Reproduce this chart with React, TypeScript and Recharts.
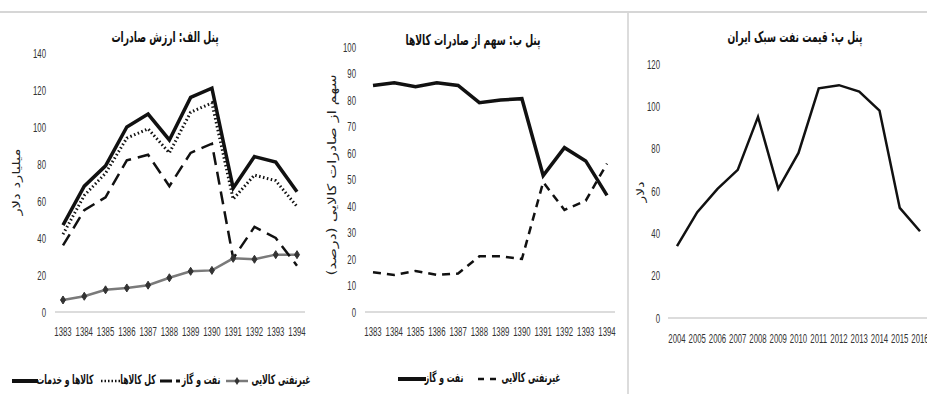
import React from 'react';
import { LineChart, Line, XAxis, YAxis } from 'recharts';

const yearsA = ['1383', '1384', '1385', '1386', '1387', '1388', '1389', '1390', '1391', '1392', '1393', '1394'];
const goodsServices = [47, 68, 79, 100, 107, 93, 116, 121, 67, 84, 81, 65];
const totalGoods = [42, 63, 75, 94, 99, 86, 108, 113, 61, 74, 71, 57];
const oilGas = [36, 55, 62, 82, 85, 68, 86, 91, 29, 46, 40, 25];
const nonOil = [6.5, 8.5, 12, 13, 14.5, 18.5, 22, 22.5, 29, 28.5, 31, 31];

const oilShare = [85.5, 86.5, 85, 86.5, 85.5, 79, 80, 80.5, 51.5, 62, 57, 44];
const nonOilShare = [15, 14, 15.5, 14, 14.5, 21, 21, 20, 49, 38.5, 42, 56];

const yearsC = ['2004', '2005', '2006', '2007', '2008', '2009', '2010', '2011', '2012', '2013', '2014', '2015', '2016'];
const oilPrice = [34, 50, 61, 70, 95, 61, 78, 108.5, 110, 107, 98, 52, 41];

const ticksA = [0, 20, 40, 60, 80, 100, 120, 140];
const ticksB = [0, 10, 20, 30, 40, 50, 60, 70, 80, 90, 100];
const ticksC = [0, 20, 40, 60, 80, 100, 120];

const titleA = 'پنل الف: ارزش صادرات';
const titleB = 'پنل ب: سهم از صادرات کالاها';
const titleC = 'پنل پ: قیمت نفت سبک ایران';
const labelA = 'میلیارد دلار';
const labelB = 'سهم از صادرات کالایی (درصد)';
const labelC = 'دلار';
const nameGS = 'کالاها و خدمات';
const nameTG = 'کل کالاها';
const nameOG = 'نفت و گاز';
const nameNO = 'غیرنفتی کالایی';

const dataA = yearsA.map((y, i) => ({ year: y, gs: goodsServices[i], tg: totalGoods[i], og: oilGas[i], no: nonOil[i] }));
const dataB = yearsA.map((y, i) => ({ year: y, og: oilShare[i], no: nonOilShare[i] }));
const dataC = yearsC.map((y, i) => ({ year: y, p: oilPrice[i] }));

const numFont = '"Liberation Sans", Arial, sans-serif';
const faFont = '"DejaVu Sans Condensed", "DejaVu Sans", sans-serif';

const XTick = (props: any) => {
  const { x, y, payload } = props;
  return (
    <g transform={`translate(${x},${y})`}>
      <text transform="scale(0.6,1)" textAnchor="middle" dy="0.71em" fontFamily={numFont} fontSize={13} fill="#333">{payload.value}</text>
    </g>
  );
};

const YTick = (props: any) => {
  const { x, y, payload } = props;
  return (
    <g transform={`translate(${x},${y})`}>
      <text transform="scale(0.6,1)" textAnchor="end" dy="0.35em" fontFamily={numFont} fontSize={13} fill="#333">{payload.value}</text>
    </g>
  );
};

const Diamond = (props: any) => {
  const { cx, cy } = props;
  if (cx == null || cy == null) return null;
  return <path d={`M${cx},${cy - 4} L${cx + 2.5},${cy} L${cx},${cy + 4} L${cx - 2.5},${cy} Z`} fill="#333" stroke="#333" strokeWidth={1} />;
};

const abs = (left: number, top: number): React.CSSProperties => ({ position: 'absolute', left, top });

const Title = ({ x, y, text }: { x: number; y: number; text: string }) => (
  <div style={{ position: 'absolute', left: x - 150, top: y, width: 300, textAlign: 'center', fontFamily: faFont, fontSize: 15, fontWeight: 'bold', color: '#111', direction: 'rtl', whiteSpace: 'nowrap', transform: 'scaleX(0.68)', transformOrigin: 'center' }}>{text}</div>
);

const VLabel = ({ x, y, text, size, stretch }: { x: number; y: number; text: string; size: number; stretch: number }) => (
  <div style={{ position: 'absolute', left: x - 150, top: y - 8, width: 300, height: 16, lineHeight: '16px', textAlign: 'center', fontFamily: faFont, fontSize: size, color: '#222', direction: 'rtl', whiteSpace: 'nowrap', transform: `rotate(-90deg) scaleX(${stretch})`, transformOrigin: 'center' }}>{text}</div>
);

const LegText = ({ cx, y, text }: { cx: number; y: number; text: string }) => (
  <div style={{ position: 'absolute', left: cx - 60, top: y, width: 120, textAlign: 'center', fontFamily: faFont, fontSize: 13, fontWeight: 'bold', color: '#111', direction: 'rtl', whiteSpace: 'nowrap', transform: 'scaleX(0.66)', transformOrigin: 'center' }}>{text}</div>
);

const Swatch = ({ x, y, w, children }: { x: number; y: number; w: number; children: React.ReactNode }) => (
  <svg style={{ position: 'absolute', left: x, top: y - 6 }} width={w} height={12}>{children}</svg>
);

export default function App() {
  return (
    <div style={{ position: 'fixed', left: 0, top: 0, width: 927, height: 394, background: '#fff', overflow: 'hidden' }}>
      {/* frame lines */}
      <div style={{ position: 'absolute', left: 0, top: 11, width: 927, height: 2, background: '#d6d6d6' }} />
      <div style={{ position: 'absolute', left: 627, top: 13, width: 2, height: 381, background: '#dcdcdc' }} />

      {/* Panel A */}
      <div style={abs(0, 0)}>
        <LineChart width={310} height={394} data={dataA} margin={{ top: 53, right: 5, bottom: 52, left: 0 }}>
          <XAxis dataKey="year" interval={0} padding={{ left: 8, right: 8 }} axisLine={{ stroke: '#d0d0d0', strokeWidth: 1.5 }} tickLine={false} tickSize={0} tickMargin={15} height={30} tick={<XTick />} />
          <YAxis domain={[0, 140]} ticks={ticksA} interval={0} axisLine={false} tickLine={false} tickSize={0} tickMargin={9} width={55} tick={<YTick />} />
          <Line dataKey="no" stroke="#7a7a7a" strokeWidth={2.5} dot={<Diamond />} isAnimationActive={false} />
          <Line dataKey="og" stroke="#111" strokeWidth={2.5} strokeDasharray="13 7" dot={false} isAnimationActive={false} />
          <Line dataKey="tg" stroke="#111" strokeWidth={3} strokeDasharray="1.5 2.5" dot={false} isAnimationActive={false} />
          <Line dataKey="gs" stroke="#111" strokeWidth={3.5} dot={false} isAnimationActive={false} />
        </LineChart>
      </div>
      <Title x={165} y={28} text={titleA} />
      <VLabel x={17} y={182} text={labelA} size={11} stretch={1.5} />

      {/* Panel A legend */}
      <Swatch x={12} y={381} w={26}><line x1={0} y1={6} x2={26} y2={6} stroke="#111" strokeWidth={4} /></Swatch>
      <LegText cx={65} y={372} text={nameGS} />
      <Swatch x={100} y={381} w={20}><line x1={1} y1={6} x2={20} y2={6} stroke="#111" strokeWidth={2.5} strokeDasharray="1.5 2" /></Swatch>
      <LegText cx={138} y={372} text={nameTG} />
      <Swatch x={160} y={381} w={20}><line x1={0} y1={6} x2={20} y2={6} stroke="#111" strokeWidth={3} strokeDasharray="12 4" /></Swatch>
      <LegText cx={201} y={372} text={nameOG} />
      <Swatch x={226} y={381} w={22}><line x1={0} y1={6} x2={22} y2={6} stroke="#7a7a7a" strokeWidth={2.5} /><path d="M11,2 L13.5,6 L11,10 L8.5,6 Z" fill="#333" /></Swatch>
      <LegText cx={281} y={372} text={nameNO} />

      {/* Panel B */}
      <div style={abs(310, 0)}>
        <LineChart width={310} height={394} data={dataB} margin={{ top: 47, right: 5, bottom: 52, left: 0 }}>
          <XAxis dataKey="year" interval={0} padding={{ left: 8, right: 8 }} axisLine={{ stroke: '#d0d0d0', strokeWidth: 1.5 }} tickLine={false} tickSize={0} tickMargin={15} height={30} tick={<XTick />} />
          <YAxis domain={[0, 100]} ticks={ticksB} interval={0} axisLine={false} tickLine={false} tickSize={0} tickMargin={9} width={55} tick={<YTick />} />
          <Line dataKey="no" stroke="#111" strokeWidth={2.5} strokeDasharray="8 6" dot={false} isAnimationActive={false} />
          <Line dataKey="og" stroke="#111" strokeWidth={3.5} dot={false} isAnimationActive={false} />
        </LineChart>
      </div>
      <Title x={473} y={31} text={titleB} />
      <VLabel x={332} y={175} text={labelB} size={12} stretch={1.45} />

      {/* Panel B legend */}
      <Swatch x={398} y={379} w={28}><line x1={0} y1={6} x2={28} y2={6} stroke="#111" strokeWidth={4} /></Swatch>
      <LegText cx={444} y={370} text={nameOG} />
      <Swatch x={478} y={379} w={20}><line x1={0} y1={6} x2={20} y2={6} stroke="#111" strokeWidth={2.5} strokeDasharray="6 6" /></Swatch>
      <LegText cx={531} y={370} text={nameNO} />

      {/* Panel C */}
      <div style={abs(615, 0)}>
        <LineChart width={312} height={394} data={dataC} margin={{ top: 64, right: 0, bottom: 46, left: 0 }}>
          <XAxis dataKey="year" interval={0} padding={{ left: 9, right: 7 }} axisLine={{ stroke: '#d0d0d0', strokeWidth: 1.5 }} tickLine={false} tickSize={0} tickMargin={16} height={30} tick={<XTick />} />
          <YAxis domain={[0, 120]} ticks={ticksC} interval={0} axisLine={false} tickLine={false} tickSize={0} tickMargin={8} width={53} tick={<YTick />} />
          <Line dataKey="p" stroke="#111" strokeWidth={2.5} dot={false} isAnimationActive={false} />
        </LineChart>
      </div>
      <Title x={795} y={28} text={titleC} />
      <VLabel x={641} y={192} text={labelC} size={11} stretch={1.4} />
    </div>
  );
}
